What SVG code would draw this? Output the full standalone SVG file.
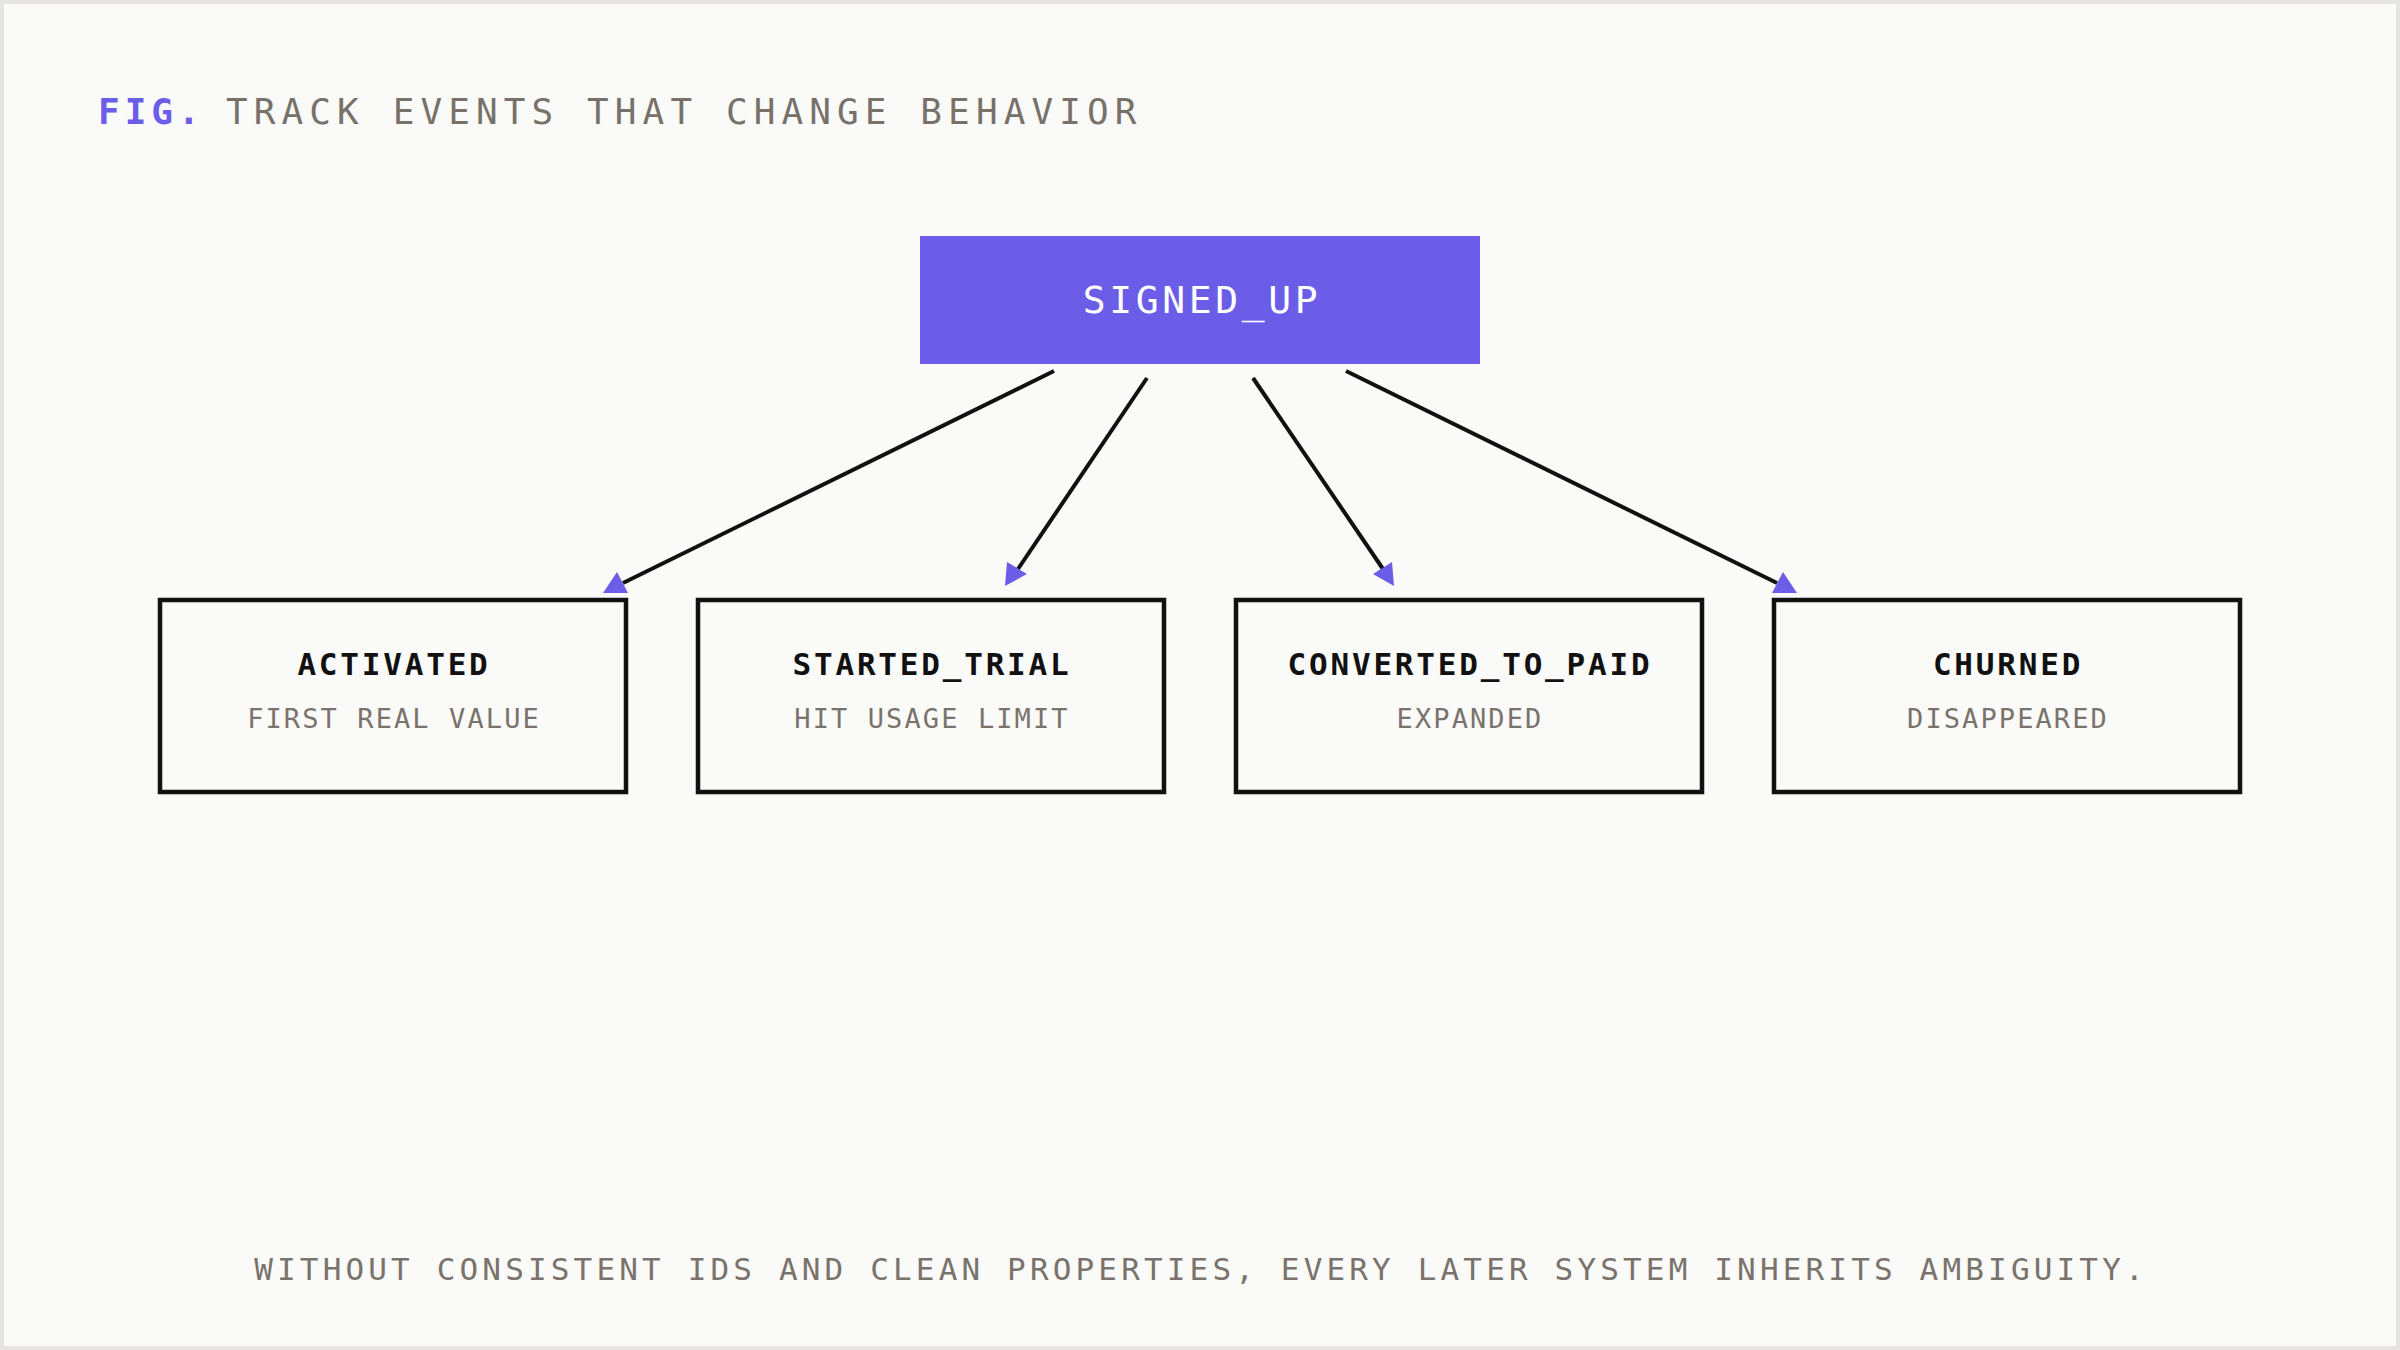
<svg xmlns="http://www.w3.org/2000/svg" width="2400" height="1350" viewBox="0 0 2400 1350">
  <style>
    .mono { font-family: "DejaVu Sans Mono", "Liberation Mono", monospace; }
    .hdr { font-size: 36px; fill: #78716a; letter-spacing: 6.1px; }
    .fig { font-size: 36px; fill: #6C5DE8; font-weight: bold; letter-spacing: 5px; }
    .box { fill: #FAFAF8; stroke: #111111; stroke-width: 4.5; }
    .ttl { font-size: 31px; font-weight: bold; fill: #111111; letter-spacing: 2.8px; text-anchor: middle; }
    .sub { font-size: 27px; fill: #7a736c; letter-spacing: 2.1px; text-anchor: middle; }
    .edge { stroke: #111111; stroke-width: 4; fill: none; }
    .head { fill: #6C5DE8; }
    .foot { font-size: 31px; fill: #7a736c; letter-spacing: 4.15px; text-anchor: middle; }
  </style>
  <rect x="2" y="2" width="2396" height="1346" fill="#FAFAF8" stroke="#E6E5E2" stroke-width="4"/>

  <g id="title">
    <text class="mono fig" x="98" y="124">FIG.</text>
    <text class="mono hdr" x="226" y="124">TRACK EVENTS THAT CHANGE BEHAVIOR</text>
  </g>

  <g id="connectors">
    <line class="edge" x1="1054" y1="371" x2="623" y2="583"/>
    <polygon class="head" points="603,593 628,593 617,572"/>
    <line class="edge" x1="1147" y1="378" x2="1018" y2="569"/>
    <polygon class="head" points="1007,562 1027,574 1005,586"/>
    <line class="edge" x1="1253" y1="378" x2="1383" y2="569"/>
    <polygon class="head" points="1392,562 1394,586 1373,574"/>
    <line class="edge" x1="1346" y1="371" x2="1777" y2="583"/>
    <polygon class="head" points="1783,572 1797,593 1772,593"/>
  </g>

  <g id="node-signed-up">
    <rect x="920" y="236" width="560" height="128" fill="#6C5DE8"/>
    <text class="mono" x="1202" y="313" font-size="38" fill="#FFFFFF" letter-spacing="3.6" text-anchor="middle">SIGNED_UP</text>
  </g>

  <g id="node-activated">
    <rect class="box" x="160" y="600" width="466" height="192"/>
    <text class="mono ttl" x="394" y="675">ACTIVATED</text>
    <text class="mono sub" x="394" y="728">FIRST REAL VALUE</text>
  </g>

  <g id="node-started-trial">
    <rect class="box" x="698" y="600" width="466" height="192"/>
    <text class="mono ttl" x="932" y="675">STARTED_TRIAL</text>
    <text class="mono sub" x="932" y="728">HIT USAGE LIMIT</text>
  </g>

  <g id="node-converted-to-paid">
    <rect class="box" x="1236" y="600" width="466" height="192"/>
    <text class="mono ttl" x="1470" y="675">CONVERTED_TO_PAID</text>
    <text class="mono sub" x="1470" y="728">EXPANDED</text>
  </g>

  <g id="node-churned">
    <rect class="box" x="1774" y="600" width="466" height="192"/>
    <text class="mono ttl" x="2008" y="675">CHURNED</text>
    <text class="mono sub" x="2008" y="728">DISAPPEARED</text>
  </g>

  <g id="footer">
    <text class="mono foot" x="1201" y="1280">WITHOUT CONSISTENT IDS AND CLEAN PROPERTIES, EVERY LATER SYSTEM INHERITS AMBIGUITY.</text>
  </g>
</svg>
